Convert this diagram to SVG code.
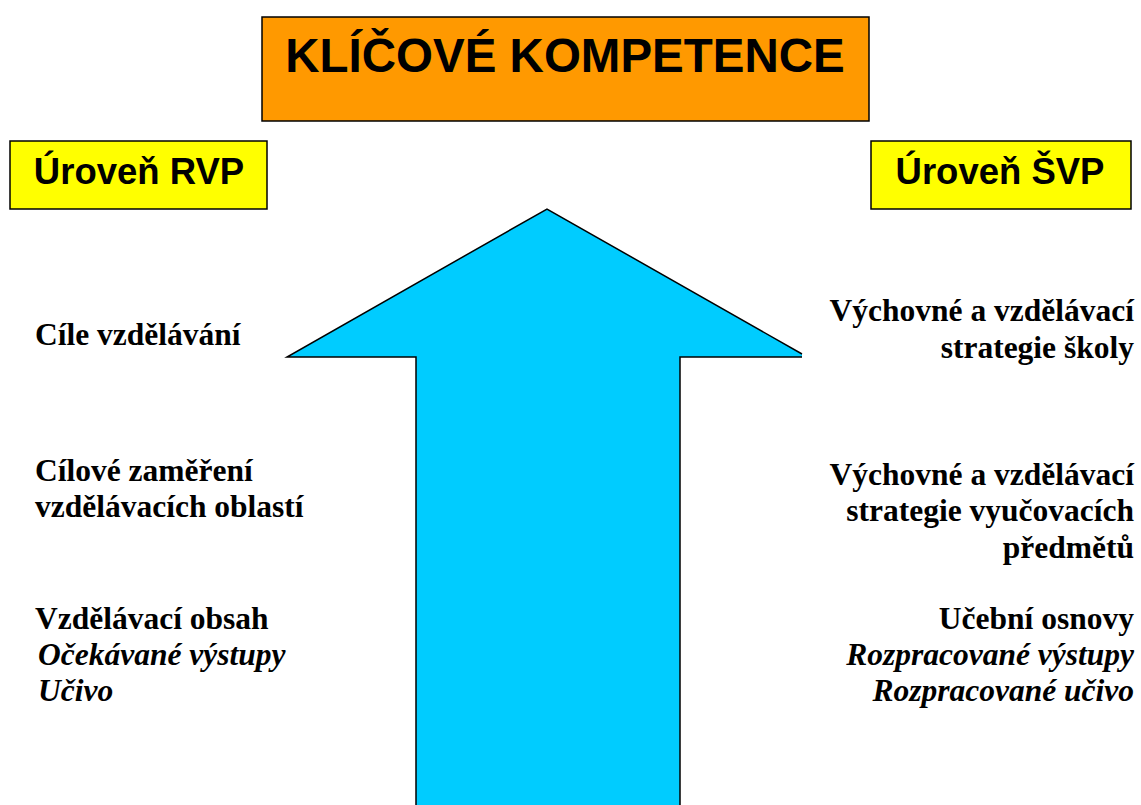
<svg xmlns="http://www.w3.org/2000/svg" width="1141" height="805" viewBox="0 0 1141 805">
<style>
.box{stroke:#000;stroke-width:1.5}
.hdr{font-family:"Liberation Sans",Arial,sans-serif;font-weight:bold;fill:#000}
.t{font-family:"Liberation Serif","Times New Roman",serif;font-weight:bold;font-size:31.5px;fill:#000}
.i{font-style:italic}
.r{text-anchor:end}
</style>
<rect width="1141" height="805" fill="#fff"/>
<g id="arrow">
<path d="M547,209 L802,354 L802,357 L680,357 L680,805 L416,805 L416,357 L287,357 Z" fill="#00ccff"/>
<path d="M802,354 L547,209 L287,357 L416,357 L416,805 M680,805 L680,357 L802,357" fill="none" stroke="#000" stroke-width="1.5"/>
</g>
<g id="title">
<rect class="box" x="262" y="17" width="607" height="104" fill="#ff9900"/>
<text class="hdr" x="565" y="72" font-size="47.5" text-anchor="middle">KLÍČOVÉ KOMPETENCE</text>
</g>
<g id="rvp">
<rect class="box" x="10" y="141" width="257" height="68" fill="#ffff00"/>
<text class="hdr" x="139" y="184" font-size="36.5" text-anchor="middle">Úroveň RVP</text>
</g>
<g id="svp">
<rect class="box" x="871" y="141" width="260" height="68" fill="#ffff00"/>
<text class="hdr" x="1000" y="184" font-size="36.5" text-anchor="middle">Úroveň ŠVP</text>
</g>
<g id="left-1"><text class="t" x="35" y="345">Cíle vzdělávání</text></g>
<g id="left-2"><text class="t" x="35" y="481">Cílové zaměření</text><text class="t" x="35" y="517">vzdělávacích oblastí</text></g>
<g id="left-3"><text class="t" x="35" y="629">Vzdělávací obsah</text><text class="t i" x="38" y="665">Očekávané výstupy</text><text class="t i" x="38" y="701">Učivo</text></g>
<g id="right-1"><text class="t r" x="1134" y="321">Výchovné a vzdělávací</text><text class="t r" x="1134" y="358">strategie školy</text></g>
<g id="right-2"><text class="t r" x="1134" y="485">Výchovné a vzdělávací</text><text class="t r" x="1134" y="521">strategie vyučovacích</text><text class="t r" x="1134" y="558">předmětů</text></g>
<g id="right-3"><text class="t r" x="1134" y="629">Učební osnovy</text><text class="t r i" x="1134" y="665">Rozpracované výstupy</text><text class="t r i" x="1134" y="701">Rozpracované učivo</text></g>
<g id="connectors"></g>
</svg>
